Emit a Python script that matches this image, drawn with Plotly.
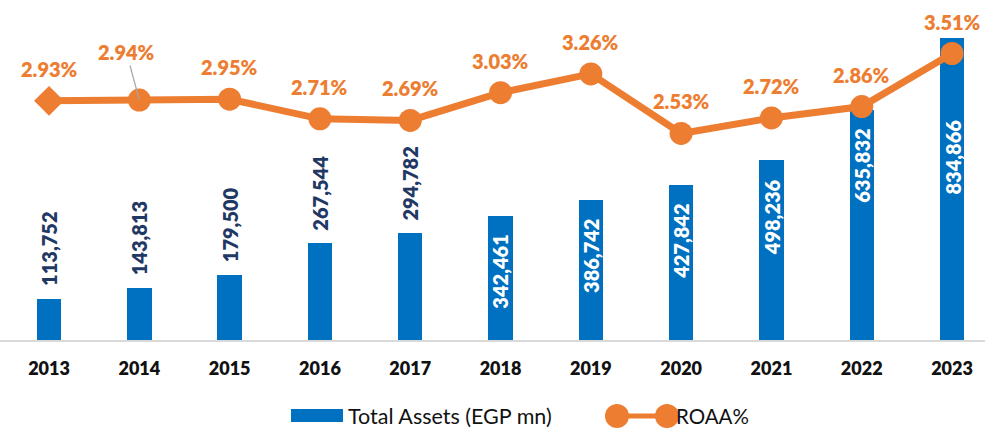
import plotly.graph_objects as go

# Bank total assets (EGP mn) and return on average assets, 2013-2023
years = ["2013", "2014", "2015", "2016", "2017", "2018", "2019", "2020", "2021", "2022", "2023"]
total_assets = [113752, 143813, 179500, 267544, 294782, 342461, 386742, 427842, 498236, 635832, 834866]
roaa = [2.93, 2.94, 2.95, 2.71, 2.69, 3.03, 3.26, 2.53, 2.72, 2.86, 3.51]

BLUE = "#0070C0"
ORANGE = "#ED7D31"
NAVY = "#1F3864"
FONT = "Lato"
HEAVY = 800

W, H = 985, 429
PLOT_TOP, PLOT_BOTTOM = 10, 340
PLOT_H = PLOT_BOTTOM - PLOT_TOP

fig = go.Figure()

fig.add_trace(go.Bar(
    x=years, y=total_assets, name="Total Assets (EGP mn)",
    marker=dict(color=BLUE, line=dict(width=0)),
    width=0.27,
    hoverinfo="skip",
))

symbols = ["diamond"] + ["circle"] * (len(years) - 1)
fig.add_trace(go.Scatter(
    x=years, y=roaa, name="ROAA%", yaxis="y2",
    mode="lines+markers",
    line=dict(color=ORANGE, width=7),
    marker=dict(color=ORANGE, size=23, symbol=symbols, line=dict(width=0)),
    cliponaxis=False,
    hoverinfo="skip",
))

annotations = []

# value labels on the bars: above the short bars, inside the top of the tall ones
n_outside = 5
for i, v in enumerate(total_assets):
    common = dict(x=i, y=v, xref="x", yref="y", text=f"{v:,}",
                  showarrow=False, textangle=-90)
    if i < n_outside:
        annotations.append(dict(**common, yanchor="bottom", yshift=11,
                                font=dict(family=FONT, size=20, color=NAVY, weight=HEAVY)))
    else:
        drop = 80 if i == len(total_assets) - 1 else 17  # keep clear of the line marker
        annotations.append(dict(**common, yanchor="top", yshift=-drop,
                                font=dict(family=FONT, size=20, color="white", weight=HEAVY)))

# ROAA labels above the line
for i, v in enumerate(roaa):
    label = f"{v:.2f}%"
    font = dict(family=FONT, size=20, color=ORANGE, weight=HEAVY)
    if i == 1:
        annotations.append(dict(
            x=i, y=v, xref="x", yref="y2", text=label,
            showarrow=True, arrowhead=0, arrowwidth=1.2, arrowcolor="#A6A6A6",
            ax=-13, ay=-48, standoff=0, font=font,
        ))
    else:
        annotations.append(dict(
            x=i, y=v, xref="x", yref="y2", text=label,
            showarrow=False, yshift=32, font=font,
        ))

# legend drawn below the chart
def px_x(p):
    return p / W

def px_y(p):
    return (PLOT_BOTTOM - p) / PLOT_H

leg_y = 416
shapes = [
    dict(type="rect", xref="paper", yref="paper",
         x0=px_x(291), x1=px_x(343), y0=px_y(422), y1=px_y(409),
         fillcolor=BLUE, line=dict(width=0)),
    dict(type="line", xref="paper", yref="paper",
         x0=px_x(617), x1=px_x(667), y0=px_y(leg_y), y1=px_y(leg_y),
         line=dict(color=ORANGE, width=5)),
    dict(type="circle", xref="paper", yref="paper",
         x0=px_x(605), x1=px_x(629), y0=px_y(leg_y + 12), y1=px_y(leg_y - 12),
         fillcolor=ORANGE, line=dict(width=0)),
    dict(type="circle", xref="paper", yref="paper",
         x0=px_x(655), x1=px_x(679), y0=px_y(leg_y + 12), y1=px_y(leg_y - 12),
         fillcolor=ORANGE, line=dict(width=0)),
]
annotations += [
    dict(xref="paper", yref="paper", x=px_x(346), y=px_y(leg_y),
         xanchor="left", yanchor="middle", showarrow=False,
         text="Total Assets (EGP mn)", font=dict(family=FONT, size=21.5, color="#111111")),
    dict(xref="paper", yref="paper", x=px_x(674), y=px_y(leg_y),
         xanchor="left", yanchor="middle", showarrow=False,
         text="ROAA%", font=dict(family=FONT, size=20.5, color="#111111")),
]

fig.update_layout(
    width=W, height=H,
    margin=dict(l=0, r=0, t=PLOT_TOP, b=H - PLOT_BOTTOM, pad=0),
    paper_bgcolor="white", plot_bgcolor="white",
    showlegend=False,
    bargap=0,
    xaxis=dict(
        type="category", range=[-0.543, 10.365],
        showgrid=False, zeroline=False,
        showline=True, linecolor="#D9D9D9", linewidth=2,
        ticks="", ticklabelstandoff=11,
        tickfont=dict(family=FONT, size=18, color="#111111", weight=HEAVY),
    ),
    yaxis=dict(range=[0, 912271], visible=False, showgrid=False, zeroline=False),
    yaxis2=dict(range=[0, 4.043], overlaying="y", side="right",
                visible=False, showgrid=False, zeroline=False),
    shapes=shapes,
    annotations=annotations,
)

fig.write_html("out.html")
